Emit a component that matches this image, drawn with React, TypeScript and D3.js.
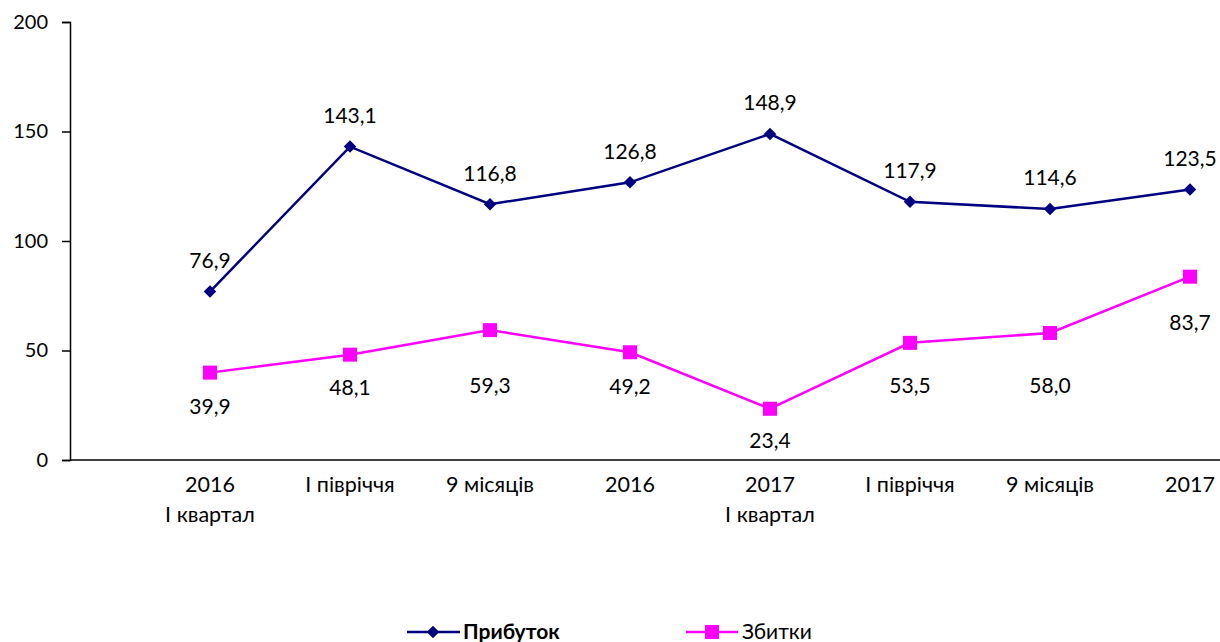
import { useEffect, useRef } from 'react'
import * as d3 from 'd3'

// categories (two-line labels)
const categories = ['2016 I квартал', '2016 I півріччя', '2016 9 місяців', '2016', '2017 I квартал', '2017 I півріччя', '2017 9 місяців', '2017']
const catLine1 = ['2016', 'I півріччя', '9 місяців', '2016', '2017', 'I півріччя', '9 місяців', '2017']
const catLine2 = ['I квартал', '', '', '', 'I квартал', '', '', '']

const profit = [76.9, 143.1, 116.8, 126.8, 148.9, 117.9, 114.6, 123.5]
const losses = [39.9, 48.1, 59.3, 49.2, 23.4, 53.5, 58.0, 83.7]

const yTicks = [0, 50, 100, 150, 200]

// label nudges below the loss points (as placed in the original)
const lossLabelDy = [34, 33, 56, 34, 32, 43, 53, 46]

const FONT = 'Lato, "Open Sans", sans-serif'

export default function App() {
  const ref = useRef<SVGSVGElement>(null)

  useEffect(() => {
    document.body.style.margin = '0'
    if (!ref.current) return
    const svg = d3.select(ref.current)
    svg.selectAll('*').remove()

    const x = d3.scalePoint<string>().domain(categories).range([210, 1190])
    const y = d3.scaleLinear().domain([0, 200]).range([460, 22])

    // Y axis
    const yAxis = svg
      .append('g')
      .attr('transform', 'translate(70,0)')
      .call(d3.axisLeft(y).tickValues(yTicks).tickSize(8).tickPadding(14).tickFormat(d3.format('d')))
    yAxis.select('.domain').attr('stroke', '#000').attr('stroke-width', 1.5)
    yAxis.selectAll('.tick line').attr('stroke', '#000').attr('stroke-width', 1.5)
    yAxis.selectAll('.tick text').style('font-size', '20px').style('font-family', FONT).attr('fill', '#000')

    // X axis line
    svg
      .append('line')
      .attr('x1', 70)
      .attr('x2', 1220)
      .attr('y1', y(0))
      .attr('y2', y(0))
      .attr('stroke', '#000')
      .attr('stroke-width', 1.5)

    const xl = svg.append('g').style('font-family', FONT).style('font-size', '21.5px').attr('text-anchor', 'middle')
    categories.forEach((c, i) => {
      xl.append('text').attr('x', x(c)!).attr('y', 492).text(catLine1[i])
      if (catLine2[i]) xl.append('text').attr('x', x(c)!).attr('y', 522).text(catLine2[i])
    })

    const line = d3
      .line<number>()
      .x((_, i) => x(categories[i])!)
      .y((d) => y(d))

    const diamond = d3.symbol(d3.symbolDiamond2, 100)()

    // Прибуток
    svg.append('path').datum(profit).attr('d', line).attr('fill', 'none').attr('stroke', '#000080').attr('stroke-width', 2.5)
    svg
      .selectAll('.pm')
      .data(profit)
      .enter()
      .append('path')
      .attr('d', diamond)
      .attr('transform', (d, i) => `translate(${x(categories[i])},${y(d)})`)
      .attr('fill', '#000080')

    // Збитки
    svg.append('path').datum(losses).attr('d', line).attr('fill', 'none').attr('stroke', '#FF00FF').attr('stroke-width', 2.5)
    svg
      .selectAll('.lm')
      .data(losses)
      .enter()
      .append('rect')
      .attr('x', (_, i) => x(categories[i])! - 7)
      .attr('y', (d) => y(d) - 7)
      .attr('width', 14)
      .attr('height', 14)
      .attr('fill', '#FF00FF')

    // data labels
    const lbl = svg.append('g').style('font-family', FONT).style('font-size', '21px').attr('text-anchor', 'middle').attr('fill', '#000')
    const fmt = (v: number) => v.toFixed(1).replace('.', ',')
    profit.forEach((v, i) => {
      lbl.append('text').attr('x', x(categories[i])!).attr('y', y(v) - 31).attr('dy', '0.35em').text(fmt(v))
    })
    losses.forEach((v, i) => {
      lbl.append('text').attr('x', x(categories[i])!).attr('y', y(v) + lossLabelDy[i]).attr('dy', '0.35em').text(fmt(v))
    })

    // legend
    const lg = svg.append('g').style('font-family', FONT).style('font-size', '21px')
    lg.append('line').attr('x1', 407).attr('x2', 460).attr('y1', 632).attr('y2', 632).attr('stroke', '#000080').attr('stroke-width', 2.5)
    lg.append('path').attr('d', diamond).attr('transform', 'translate(433,632)').attr('fill', '#000080')
    lg.append('text').attr('x', 463).attr('y', 632).attr('dy', '0.35em').style('font-weight', 'bold').text('Прибуток')
    lg.append('line').attr('x1', 686).attr('x2', 738).attr('y1', 632).attr('y2', 632).attr('stroke', '#FF00FF').attr('stroke-width', 2.5)
    lg.append('rect').attr('x', 705).attr('y', 625).attr('width', 14).attr('height', 14).attr('fill', '#FF00FF')
    lg.append('text').attr('x', 742).attr('y', 632).attr('dy', '0.35em').text('Збитки')
  }, [])

  return <svg ref={ref} width={1220} height={642} style={{ display: 'block', background: '#fff' }} />
}
